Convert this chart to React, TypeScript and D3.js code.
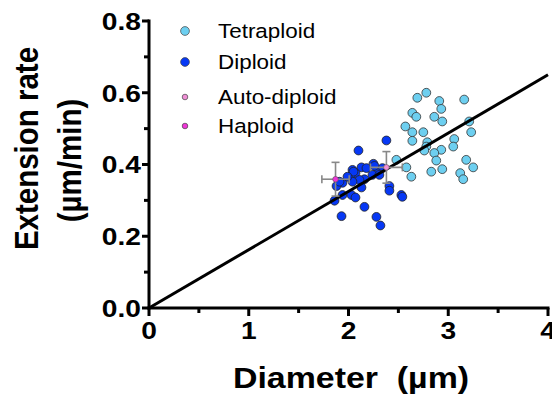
import React from 'react';
import * as d3 from 'd3';

// Tetraploid cells: diameter (µm) vs extension rate (µm/min)
const tetraX = [2.78, 2.69, 2.91, 3.16, 2.93, 2.64, 2.68, 2.86, 2.94, 3.21, 2.57, 2.64, 2.75, 3.23, 2.64, 3.06,
  2.79, 3.05, 2.78, 2.76, 2.93, 2.86, 2.88, 3.18, 2.48, 2.58, 2.94, 3.25, 2.83, 2.63, 3.12, 3.15];
const tetraY = [0.600, 0.586, 0.577, 0.581, 0.555, 0.544, 0.533, 0.533, 0.520, 0.520, 0.506, 0.490, 0.490, 0.490, 0.466, 0.471,
  0.462, 0.450, 0.450, 0.439, 0.441, 0.432, 0.411, 0.413, 0.413, 0.392, 0.387, 0.392, 0.380, 0.366, 0.376, 0.359];

const diploidX = [2.38, 2.10, 2.25, 2.04, 2.13, 2.18, 2.34, 2.29, 2.24, 2.07, 2.02, 2.16, 2.11, 2.04, 1.94, 1.88,
  2.41, 2.41, 2.13, 1.94, 2.03, 2.07, 2.53, 2.54, 1.86, 2.16, 1.93, 2.28, 2.32, 1.91, 2.26, 2.05, 1.99, 2.31];
const diploidY = [0.467, 0.439, 0.402, 0.385, 0.392, 0.390, 0.390, 0.376, 0.371, 0.376, 0.366, 0.359, 0.357, 0.352, 0.349, 0.340,
  0.340, 0.327, 0.336, 0.315, 0.315, 0.308, 0.315, 0.310, 0.299, 0.282, 0.256, 0.254, 0.230, 0.352, 0.396, 0.380, 0.366, 0.371];

// mean ± error (x, y)
const autoDiploid = { x: 2.38, y: 0.392, ex: 0.16, ey: 0.044 };
const haploid = { x: 1.87, y: 0.359, ex: 0.137, ey: 0.047 };

const fitX = [0, 4];
const fitY = [0, 0.65];

const xTicks = [0, 1, 2, 3, 4];
const xMinor = [0.5, 1.5, 2.5, 3.5];
const yTicks = [0, 0.2, 0.4, 0.6, 0.8];
const yMinor = [0.1, 0.3, 0.5, 0.7];
const yTickLabels = ['0.0', '0.2', '0.4', '0.6', '0.8'];

const legendNames = ['Tetraploid', 'Diploid', 'Auto-diploid', 'Haploid'];
const legendColors = ['#6dcff0', '#0638f5', '#f08fd6', '#ef35d8'];

const FONT = 'Arial, "Liberation Sans", Helvetica, sans-serif';
const SX = 1.15; // the picture is stretched horizontally

const x = d3.scaleLinear().domain([0, 4]).range([149, 548]);
const y = d3.scaleLinear().domain([0, 0.8]).range([308, 21]);

const Txt = ({ px, py, size, bold, anchor, rot, children }: any) => (
  <text
    transform={`translate(${px},${py}) scale(${SX},1)${rot ? ' rotate(-90)' : ''}`}
    fontFamily={FONT}
    fontSize={size}
    fontWeight={bold ? 'bold' : 'normal'}
    textAnchor={anchor || 'start'}
    fill="#000"
  >
    {children}
  </text>
);

const ErrBar = ({ d }: any) => {
  const cx = x(d.x), cy = y(d.y);
  const x0 = x(d.x - d.ex), x1 = x(d.x + d.ex);
  const y0 = y(d.y - d.ey), y1 = y(d.y + d.ey);
  return (
    <g stroke="#888" strokeWidth={1.6}>
      <line x1={x0} x2={x1} y1={cy} y2={cy} />
      <line x1={cx} x2={cx} y1={y0} y2={y1} />
      <line x1={x0} x2={x0} y1={cy - 4} y2={cy + 4} />
      <line x1={x1} x2={x1} y1={cy - 4} y2={cy + 4} />
      <line x1={cx - 4} x2={cx + 4} y1={y0} y2={y0} />
      <line x1={cx - 4} x2={cx + 4} y1={y1} y2={y1} />
    </g>
  );
};

export default function App() {
  const fitLine = d3.line<number>().x((v) => x(v)).y((_, i) => y(fitY[i]))(fitX) || '';
  return (
    <svg width={552} height={402} style={{ position: 'absolute', left: 0, top: 0, background: '#fff' }}>
      {/* points */}
      {tetraX.map((v, i) => (
        <circle key={'t' + i} cx={x(v)} cy={y(tetraY[i])} r={4.4} fill={legendColors[0]} stroke="#333" strokeWidth={0.8} />
      ))}
      {diploidX.map((v, i) => (
        <circle key={'d' + i} cx={x(v)} cy={y(diploidY[i])} r={4.4} fill={legendColors[1]} stroke="#222" strokeWidth={0.8} />
      ))}
      <path d={fitLine} stroke="#000" strokeWidth={3} fill="none" />
      <ErrBar d={haploid} />
      <ErrBar d={autoDiploid} />
      <circle cx={x(haploid.x)} cy={y(haploid.y)} r={2.8} fill={legendColors[3]} stroke="#555" strokeWidth={0.6} />
      <circle cx={x(autoDiploid.x)} cy={y(autoDiploid.y)} r={2.8} fill={legendColors[2]} stroke="#555" strokeWidth={0.6} />

      {/* axes */}
      <g stroke="#000" strokeWidth={3}>
        <line x1={x(0)} x2={x(0)} y1={y(0) + 1.5} y2={y(0.8) - 1.5} />
        <line x1={x(0) - 1.5} x2={x(4) + 1.5} y1={y(0)} y2={y(0)} />
        {yTicks.map((t) => (
          <line key={'yt' + t} x1={x(0) - 7} x2={x(0)} y1={y(t)} y2={y(t)} />
        ))}
        {yMinor.map((t) => (
          <line key={'ym' + t} x1={x(0) - 5} x2={x(0)} y1={y(t)} y2={y(t)} />
        ))}
        {xTicks.map((t) => (
          <line key={'xt' + t} x1={x(t)} x2={x(t)} y1={y(0)} y2={y(0) + 8} />
        ))}
        {xMinor.map((t) => (
          <line key={'xm' + t} x1={x(t)} x2={x(t)} y1={y(0)} y2={y(0) + 5} />
        ))}
      </g>
      {yTicks.map((t, i) => (
        <Txt key={'yl' + t} px={141} py={y(t) + 8.8} size={24.5} bold anchor="end">{yTickLabels[i]}</Txt>
      ))}
      {xTicks.map((t) => (
        <Txt key={'xl' + t} px={x(t)} py={339} size={24.5} bold anchor="middle">{String(t)}</Txt>
      ))}

      {/* axis titles */}
      <Txt px={38} py={148.5} size={29.5} bold anchor="middle" rot>Extension rate</Txt>
      <Txt px={81} py={160.5} size={29.5} bold anchor="middle" rot>(µm/min)</Txt>
      <Txt px={351} py={388} size={29.5} bold anchor="middle">{'Diameter\u00a0 (µm)'}</Txt>

      {/* legend */}
      {legendNames.map((n, i) => {
        const ly = [31, 62, 97, 126][i];
        return (
          <g key={n}>
            <circle cx={185} cy={ly} r={i < 2 ? 4.4 : 2.8} fill={legendColors[i]} stroke="#444" strokeWidth={0.7} />
            <Txt px={218} py={ly + 7} size={19.5}>{n}</Txt>
          </g>
        );
      })}
    </svg>
  );
}
